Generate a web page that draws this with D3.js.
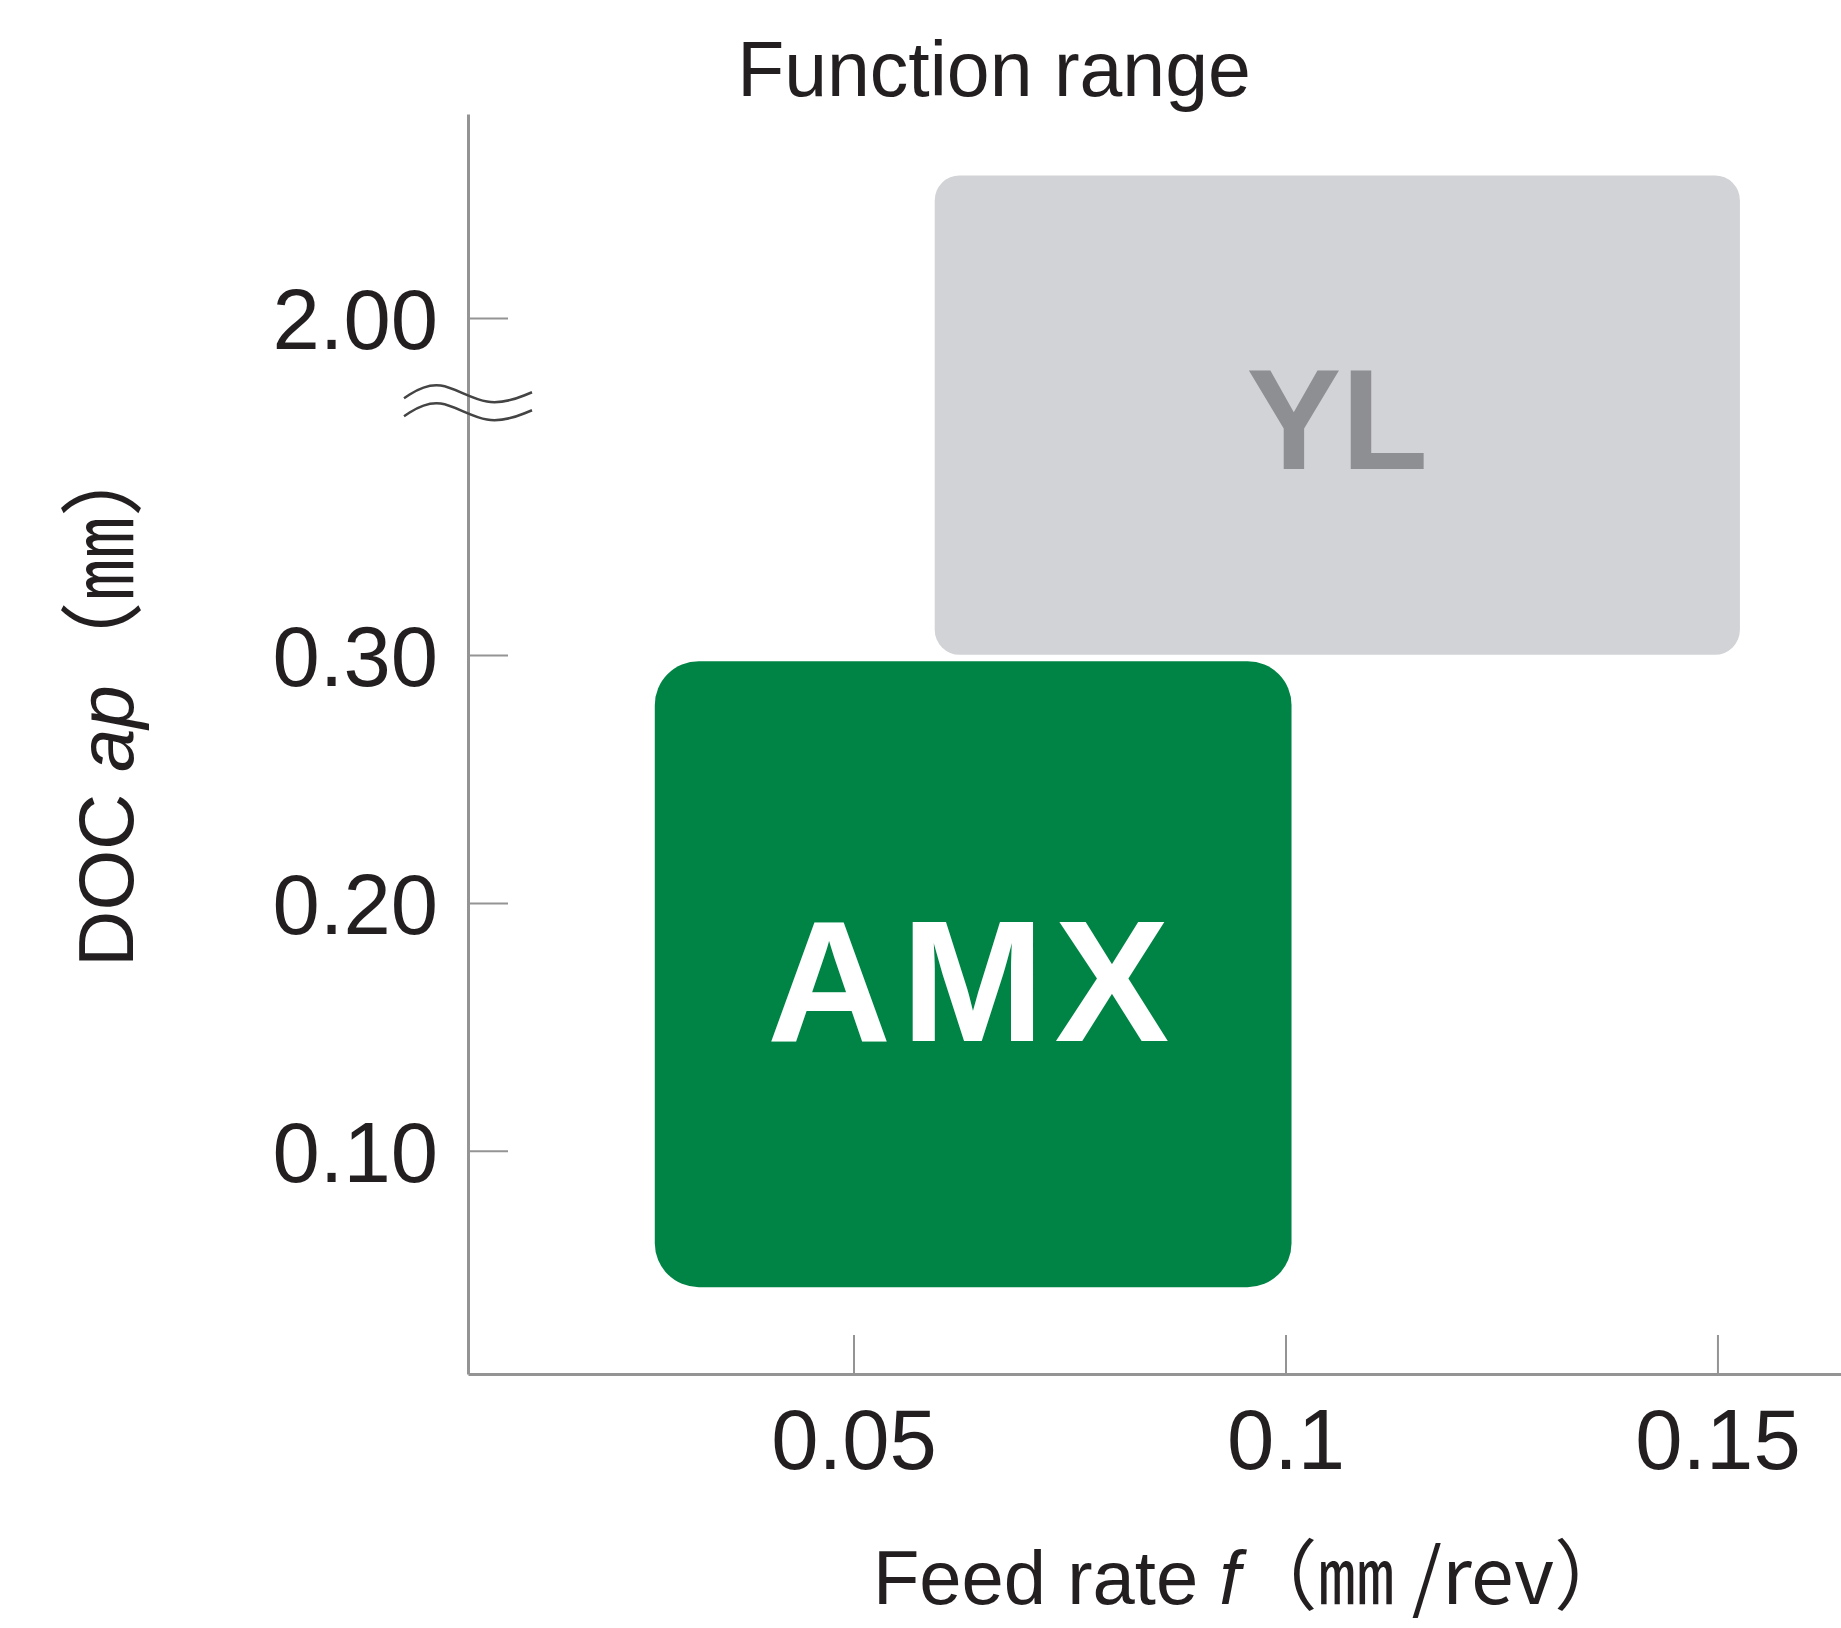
<!DOCTYPE html>
<html lang="en">
<head>
<meta charset="UTF-8">
<script src="https://d3js.org/d3.v7.min.js"></script>
<style>
  body { margin: 0; background: #fff; }
  text { font-family: "Liberation Sans", Arial, sans-serif; fill: #231f20; }
</style>
</head>
<body>
<div id="chart"></div>
<script>
// ranges
const series = ["AMX", "YL"];
const feedMin = [0.027, 0.0594];
const feedMax = [0.1007, 0.1526];
const docMin = [0.045, 0.301];
const docMax = [0.2975, 2.72];
const boxColor = ["#008445", "#d2d3d6"];
const textColor = ["#ffffff", "#8e8f92"];

const xTicks = [0.05, 0.1, 0.15];
const xTickLabels = ["0.05", "0.1", "0.15"];
const yTicks = [0.1, 0.2, 0.3, 2.0];
const yTickLabels = ["0.10", "0.20", "0.30", "2.00"];
const breakAt = 1.56;

const W = 1841, H = 1628;

const svg = d3.select("#chart").append("svg")
  .attr("width", W)
  .attr("height", H);

// x: 0.05 -> 853.5, 0.15 -> 1717.5
const x = d3.scaleLinear()
  .domain([0.00538, 0.1643])
  .range([468, 1841]);

// broken y axis: linear below 0.30, compressed above
const y = d3.scaleLinear()
  .domain([0.01, 0.3, 2.0, 3.03])
  .range([1374, 655, 318, 114]);

// boxes
const boxes = svg.append("g").selectAll("g")
  .data(series)
  .join("g");

boxes.append("rect")
  .attr("x", (d, i) => x(feedMin[i]))
  .attr("y", (d, i) => y(docMax[i]))
  .attr("width", (d, i) => x(feedMax[i]) - x(feedMin[i]))
  .attr("height", (d, i) => y(docMin[i]) - y(docMax[i]))
  .attr("rx", (d, i) => i === 0 ? 44 : 25)
  .attr("fill", (d, i) => boxColor[i]);

boxes.append("text")
  .attr("x", (d, i) => (x(feedMin[i]) + x(feedMax[i])) / 2)
  .attr("y", (d, i) => (y(docMin[i]) + y(docMax[i])) / 2)
  .attr("dy", (d, i) => i === 0 ? "0.39em" : "0.38em")
  .attr("text-anchor", "middle")
  .style("font-weight", "bold")
  .style("font-size", (d, i) => i === 0 ? "172px" : "142px")
  .style("letter-spacing", (d, i) => i === 0 ? "10px" : "0px")
  .style("fill", (d, i) => textColor[i])
  .text(d => d);

// x axis
const xAxis = svg.append("g")
  .attr("transform", `translate(0,${y(0.01)})`)
  .call(d3.axisBottom(x)
    .tickValues(xTicks)
    .tickFormat((d, i) => xTickLabels[i])
    .tickSizeInner(-39)
    .tickSizeOuter(0)
    .tickPadding(35));

// y axis
const yAxis = svg.append("g")
  .attr("transform", `translate(${x.range()[0]},0)`)
  .call(d3.axisLeft(y)
    .tickValues(yTicks)
    .tickFormat((d, i) => yTickLabels[i])
    .tickSizeInner(-40)
    .tickSizeOuter(0)
    .tickPadding(30));

[xAxis, yAxis].forEach(g => {
  g.select(".domain").attr("stroke", "#949494").attr("stroke-width", 3);
  g.selectAll(".tick line").attr("stroke", "#949494").attr("stroke-width", 2);
  g.selectAll(".tick text")
    .style("font-size", "85px")
    .style("font-family", "'Liberation Sans', Arial, sans-serif")
    .attr("fill", "#231f20");
});
yAxis.selectAll(".tick text").attr("dy", "0.36em");

// axis break mark
const wave = d3.line().curve(d3.curveBasis);
const bx = x.range()[0], by = y(breakAt);
[-9, 9].forEach(off => {
  svg.append("path")
    .attr("d", wave([
      [bx - 64, by + off + 2],
      [bx - 30, by + off - 20],
      [bx + 20, by + off + 14],
      [bx + 64, by + off - 4]
    ]))
    .attr("fill", "none")
    .attr("stroke", "#444")
    .attr("stroke-width", 2.5);
});

// title
svg.append("text")
  .attr("x", 994)
  .attr("y", 96)
  .attr("text-anchor", "middle")
  .style("font-size", "77px")
  .text("Function range");

// x axis title
const xt = svg.append("text")
  .attr("x", 1252)
  .attr("y", 1604)
  .attr("text-anchor", "middle")
  .style("font-size", "76px");
xt.append("tspan").text("Feed rate ");
xt.append("tspan").style("font-style", "italic").text("f");
xt.append("tspan").style("font-family", "'Noto Sans CJK JP', sans-serif").style("font-size", "77px").text("（㎜ /rev）");

// y axis title
const yt = svg.append("text")
  .attr("transform", "translate(133,700) rotate(-90)")
  .attr("text-anchor", "middle")
  .style("font-size", "78px");
yt.append("tspan").text("DOC ");
yt.append("tspan").style("font-style", "italic").text("ap");
yt.append("tspan").style("font-family", "'Noto Sans CJK JP', sans-serif").style("font-size", "84px").text("（㎜）");
</script>
</body>
</html>
